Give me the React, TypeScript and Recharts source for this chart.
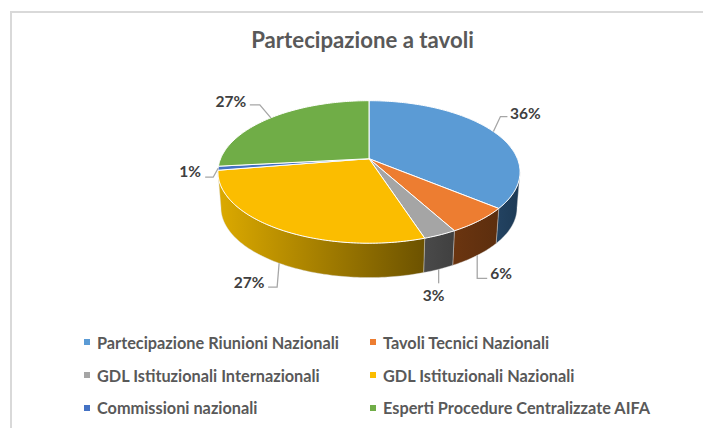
import { PieChart, Pie, Legend } from 'recharts'

const NAMES = [
  'Partecipazione Riunioni Nazionali',
  'Tavoli Tecnici Nazionali',
  'GDL Istituzionali Internazionali',
  'GDL Istituzionali Nazionali',
  'Commissioni nazionali',
  'Esperti Procedure Centralizzate AIFA',
]
const VALUES = [36, 6, 3, 27.4, 0.9, 26.7]
const COLORS = ['#5b9bd5', '#ed7d31', '#a5a5a5', '#fbbd00', '#4472c4', '#70ad47']
const WALL_FROM = ['#234362', '#6b3510', '#4a4a4a', '#dcaa00', '#2a4578', '#43682b']
const WALL_TO = ['#1d3a55', '#5c2e0e', '#404040', '#6c5200', '#2a4578', '#43682b']

// leader line for each label: start on top rim or bottom rim, elbow and end relative to start, text centre
const LEADERS = [
  { lower: false, elbow: [7, -15], end: [14, -15], text: [32, -19] },
  { lower: true, elbow: [0, 23], end: [10, 23], text: [24, 18] },
  { lower: true, elbow: [0, 14], end: [0, 14], text: [-5, 26] },
  { lower: true, elbow: [-2, 24], end: [-11, 24], text: [-30, 19] },
  { lower: false, elbow: [-5, 9], end: [-13, 9], text: [-28, 3] },
  { lower: false, elbow: [-11, -13], end: [-21, -13], text: [-40, -17] },
]

const data = NAMES.map((name, i) => ({ name, value: VALUES[i], fill: COLORS[i] }))

// the pie is tilted: a circle seen in perspective, apex above the ellipse centre
const K = 0.186
const SX = 1.484
const SY = 0.688
const BOTTOM_SCALE = 0.98
const DEPTH = 0.36

function project(cx: number, cy: number, r: number, theta: number, lower = false) {
  const rad = (theta * Math.PI) / 180
  const u = Math.sin(rad)
  const v = -Math.cos(rad)
  const w = 1 - K * v
  const s = lower ? BOTTOM_SCALE : 1
  return {
    x: cx + (s * r * SX * u) / w,
    y: cy + (s * r * SY * v) / w + (lower ? r * DEPTH : 0),
  }
}

function arcPoints(cx: number, cy: number, r: number, from: number, to: number, lower = false) {
  const pts = []
  const steps = Math.max(2, Math.ceil(Math.abs(to - from)))
  for (let i = 0; i <= steps; i++) {
    pts.push(project(cx, cy, r, from + ((to - from) * i) / steps, lower))
  }
  return pts
}

const toPath = (pts: { x: number; y: number }[]) =>
  pts.map((p, i) => `${i === 0 ? 'M' : 'L'}${p.x.toFixed(2)},${p.y.toFixed(2)}`).join(' ')

function Slice(props: any) {
  const { cx, cy, outerRadius, startAngle, endAngle, fill, index } = props
  const from = 90 - startAngle
  const to = 90 - endAngle
  const top = arcPoints(cx, cy, outerRadius, from, to)
  const wallFrom = Math.max(from, 100.7)
  const wallTo = Math.min(to, 259.3)
  let wall = null
  if (wallTo > wallFrom) {
    const upper = arcPoints(cx, cy, outerRadius, wallFrom, wallTo)
    const bottom = arcPoints(cx, cy, outerRadius, wallFrom, wallTo, true).reverse()
    const xs = [...upper, ...bottom].map((p) => p.x)
    const id = `wall-${index}`
    wall = (
      <>
        <defs>
          <linearGradient id={id} gradientUnits="userSpaceOnUse" x1={Math.max(...xs)} x2={Math.min(...xs)} y1={0} y2={0}>
            <stop offset="0" stopColor={WALL_TO[index]} />
            <stop offset="1" stopColor={WALL_FROM[index]} />
          </linearGradient>
        </defs>
        <path d={`${toPath([...upper, ...bottom])} Z`} fill={`url(#${id})`} stroke="#d9d9d9" strokeWidth={0.4} />
      </>
    )
  }
  return (
    <g>
      {wall}
      <path d={`M${cx},${cy} ${toPath(top).replace('M', 'L')} Z`} fill={fill} stroke="#ffffff" strokeWidth={1} />
    </g>
  )
}

function SliceLabel(props: any) {
  const { cx, cy, outerRadius, midAngle, percent, index } = props
  const leader = LEADERS[index]
  const p = project(cx, cy, outerRadius, 90 - midAngle, leader.lower)
  return (
    <g>
      <polyline
        points={`${p.x},${p.y} ${p.x + leader.elbow[0]},${p.y + leader.elbow[1]} ${p.x + leader.end[0]},${p.y + leader.end[1]}`}
        fill="none"
        stroke="#a6a6a6"
        strokeWidth={1.3}
      />
      <text
        x={p.x + leader.text[0]}
        y={p.y + leader.text[1]}
        textAnchor="middle"
        dominantBaseline="central"
        fontFamily="Lato, sans-serif"
        fontWeight={700}
        fontSize={15.5}
        fill="#404040"
      >
        {`${Math.round(percent * 100)}%`}
      </text>
    </g>
  )
}

function LegendGrid({ payload }: any) {
  return (
    <div style={{ display: 'grid', gridTemplateColumns: '286px 286px', gridAutoRows: 32.75, paddingLeft: 84 }}>
      {(payload ?? []).map((entry: any) => (
        <div key={entry.value} style={{ display: 'flex', alignItems: 'center', gap: 7 }}>
          <span style={{ width: 6, height: 6, background: entry.color, display: 'inline-block' }} />
          <span style={{ fontFamily: 'Lato, sans-serif', fontWeight: 700, fontSize: 16.3, color: '#595959', whiteSpace: 'nowrap' }}>
            {entry.value}
          </span>
        </div>
      ))}
    </div>
  )
}

export default function App() {
  return (
    <div style={{ position: 'absolute', left: 0, top: 0, width: 703, height: 428, overflow: 'hidden', background: '#fff' }}>
      <div style={{ position: 'absolute', left: 10, top: 11, width: 693, height: 417, borderLeft: '2px solid #d9d9d9', borderTop: '2px solid #d9d9d9' }} />
      <div
        style={{
          position: 'absolute',
          left: 0,
          top: 27,
          width: 725,
          textAlign: 'center',
          fontFamily: 'Lato, sans-serif',
          fontSize: 22.2,
          lineHeight: '26px',
          fontWeight: 700,
          color: '#595959',
        }}
      >
        Partecipazione a tavoli
      </div>
      <PieChart width={703} height={428} margin={{ top: 0, right: 0, bottom: 0, left: 0 }} style={{ position: 'absolute', left: 0, top: 0 }}>
        <Pie
          data={data}
          dataKey="value"
          nameKey="name"
          cx={369}
          cy={158.7}
          outerRadius={100}
          startAngle={90}
          endAngle={-270}
          shape={Slice}
          label={SliceLabel}
          labelLine={false}
          isAnimationActive={false}
        />
        <Legend content={LegendGrid} itemSorter={null} wrapperStyle={{ left: 0, top: 326, width: 703 }} />
      </PieChart>
    </div>
  )
}
